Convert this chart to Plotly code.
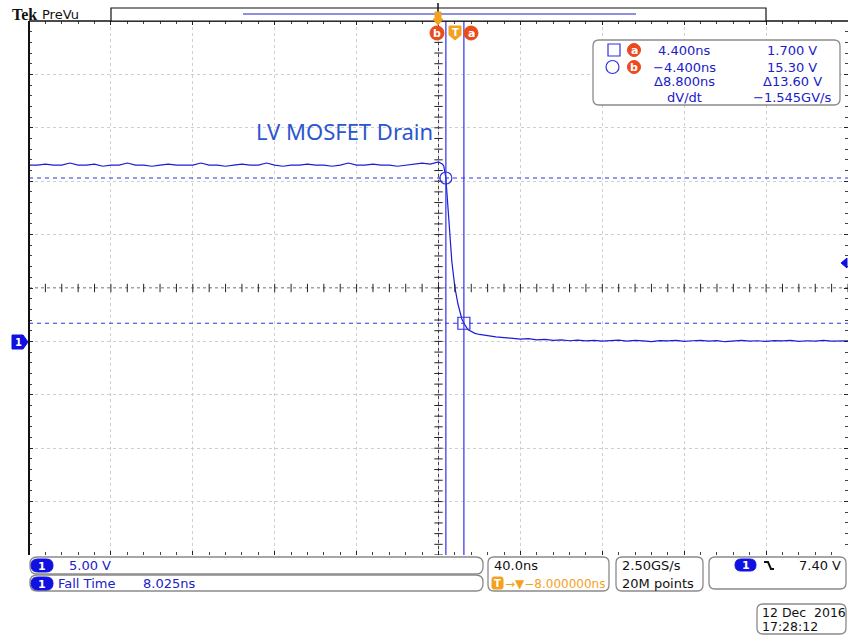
import plotly.graph_objects as go
import numpy as np

t_pre = [-208, -204, -200, -196, -192, -188, -184, -180, -176, -172, -168, -164, -160, -156,
         -152, -148, -144, -140, -136, -132, -128, -124, -120, -116, -112, -108, -104, -100,
         -96, -92, -88, -84, -80, -76, -72, -68, -64, -60, -56, -52, -48, -44, -40, -36,
         -32, -28, -24, -20, -16, -12, -8, -6]
v_pre = [16.5, 16.5, 16.6, 16.5, 16.5, 16.7, 16.5, 16.5, 16.6, 16.4, 16.5, 16.5, 16.7, 16.5,
         16.5, 16.4, 16.5, 16.6, 16.5, 16.5, 16.5, 16.7, 16.5, 16.5, 16.4, 16.5, 16.6, 16.5,
         16.5, 16.7, 16.5, 16.4, 16.5, 16.5, 16.6, 16.5, 16.5, 16.4, 16.5, 16.7, 16.5, 16.5,
         16.6, 16.5, 16.5, 16.4, 16.5, 16.6, 16.7, 16.6, 16.8, 16.6]
t_edge = [-5.4, -4.4, -3.4, -2.4, -1.5, 0.0, 1.5, 3.4, 4.4, 6.3, 8.0, 9.8, 12.0, 14.0, 17.0]
v_edge = [16.4, 15.3, 12.8, 10.0, 7.5, 5.06, 3.5, 2.1, 1.7, 1.12, 0.9, 0.75, 0.65, 0.58, 0.47]
t_post = [20, 24, 28, 32, 36, 40, 44, 48, 52, 56, 60, 64, 68, 72, 76, 80, 84, 88, 92, 96,
          100, 104, 108, 112, 116, 120, 124, 128, 132, 136, 140, 144, 148, 152, 156, 160,
          164, 168, 172, 176, 180, 184, 188, 192]
v_post = [0.42, 0.36, 0.30, 0.22, 0.26, 0.15, 0.19, 0.10, 0.14, 0.06, 0.12, 0.05, 0.10, 0.02,
          0.08, 0.12, 0.03, 0.09, 0.05, -0.02, 0.08, 0.04, 0.10, 0.00, 0.06, 0.09, 0.02, 0.07,
          -0.03, 0.05, 0.10, 0.03, 0.06, 0.00, 0.08, 0.04, 0.09, 0.01, 0.06, 0.03, 0.09, 0.02,
          0.05, 0.04]

cursor_a_t, cursor_a_v = 4.4, 1.7
cursor_b_t, cursor_b_v = -4.4, 15.3
trigger_t = 0.0
trigger_level = 7.40
center_t = -8.0          # horizontal delay
volts_per_div = 5.0
ns_per_div = 40.0
center_v = 5.0

meas_rows = [("4.400ns", "1.700 V"), ("\u22124.400ns", "15.30 V"),
             ("\u03948.800ns", "\u039413.60 V"), ("dV/dt", "\u22121.545GV/s")]

# ---------------- geometry helpers ----------------
W, H = 849, 638
L, R, T, B = 29, 848, 21, 555
def px(x): return (x - L) / (R - L)
def py(y): return (B - y) / (B - T)

BLUE_TXT = '#2020c8'
TRACE = '#1c1cd8'
CUR = '#3030e6'
ORANGE = '#f2a21e'
RED = '#ea4a1c'
GREY = '#8a8a8a'

shapes = []
annotations = []

def rrect(x0, y0, x1, y1, r, line=GREY, fill='rgba(0,0,0,0)', width=1.3):
    p = (f"M {px(x0+r)},{py(y0)} L {px(x1-r)},{py(y0)} Q {px(x1)},{py(y0)} {px(x1)},{py(y0+r)} "
         f"L {px(x1)},{py(y1-r)} Q {px(x1)},{py(y1)} {px(x1-r)},{py(y1)} "
         f"L {px(x0+r)},{py(y1)} Q {px(x0)},{py(y1)} {px(x0)},{py(y1-r)} "
         f"L {px(x0)},{py(y0+r)} Q {px(x0)},{py(y0)} {px(x0+r)},{py(y0)} Z")
    shapes.append(dict(type='path', xref='paper', yref='paper', path=p,
                       line=dict(color=line, width=width), fillcolor=fill, layer='above'))

def poly(pts, fill, line=None, width=1):
    p = "M " + " L ".join(f"{px(x)},{py(y)}" for x, y in pts) + " Z"
    shapes.append(dict(type='path', xref='paper', yref='paper', path=p,
                       line=dict(color=line or fill, width=width), fillcolor=fill, layer='above'))

def text(x, y, s, color=BLUE_TXT, size=13, anchor='left', family='DejaVu Sans'):
    annotations.append(dict(x=px(x), y=py(y), xref='paper', yref='paper', text=s,
                            showarrow=False, xanchor=anchor, yanchor='middle',
                            font=dict(color=color, size=size, family=family),
                            borderpad=0))

def circ_label(x, y, s, color=RED, r=7):
    shapes.append(dict(type='circle', xref='paper', yref='paper',
                       x0=px(x - r), x1=px(x + r), y0=py(y + r), y1=py(y - r),
                       fillcolor=color, line=dict(color=color, width=1), layer='above'))
    text(x, y + 0.5, f"<b>{s}</b>", color='white', size=11, anchor='center')

def pill(x0, y0, x1, y1, s):
    rrect(x0, y0, x1, y1, (y1 - y0) / 2, line='#1010e0', fill='#1010e0', width=1)
    text((x0 + x1) / 2, (y0 + y1) / 2 + 0.5, f"<b>{s}</b>", color='white', size=11, anchor='center')

# ---------------- figure ----------------
fig = go.Figure()

# trace
t_all = t_pre + t_edge + t_post
v_all = v_pre + v_edge + v_post
fig.add_trace(go.Scatter(x=t_all, y=v_all, mode='lines', line=dict(color=TRACE, width=1.2),
                         hoverinfo='skip', showlegend=False))

x_lo, x_hi = center_t - 5 * ns_per_div, center_t + 5 * ns_per_div
y_lo, y_hi = center_v - 5 * volts_per_div, center_v + 5 * volts_per_div

# centre cross-hair ticks
v_ticks = np.arange(y_lo, y_hi + 0.01, volts_per_div / 5)
t_ticks = np.arange(x_lo, x_hi + 0.01, ns_per_div / 5)
fig.add_trace(go.Scatter(x=[center_t] * len(v_ticks), y=v_ticks, mode='markers',
                         marker=dict(symbol='line-ew', size=6, line=dict(color='#222', width=1)),
                         hoverinfo='skip', showlegend=False))
fig.add_trace(go.Scatter(x=t_ticks, y=[center_v] * len(t_ticks), mode='markers',
                         marker=dict(symbol='line-ns', size=6, line=dict(color='#222', width=1)),
                         hoverinfo='skip', showlegend=False))

# centre dotted lines
shapes.append(dict(type='line', xref='x', yref='paper', x0=center_t, x1=center_t, y0=0, y1=1,
                   line=dict(color='#444', width=1, dash='dot'), layer='below'))
shapes.append(dict(type='line', xref='paper', yref='y', x0=0, x1=1, y0=center_v, y1=center_v,
                   line=dict(color='#444', width=1, dash='dot'), layer='below'))

# cursors
for tc in (cursor_a_t, cursor_b_t):
    shapes.append(dict(type='line', xref='x', yref='paper', x0=tc, x1=tc, y0=0, y1=1,
                       line=dict(color=CUR, width=1.2)))
for vc in (cursor_a_v, cursor_b_v):
    shapes.append(dict(type='line', xref='paper', yref='y', x0=0, x1=1, y0=vc, y1=vc,
                       line=dict(color=CUR, width=1, dash='4px,4px')))
shapes.append(dict(type='circle', xref='x', yref='y', xsizemode='pixel', ysizemode='pixel',
                   xanchor=cursor_b_t, yanchor=cursor_b_v, x0=-6, x1=6, y0=-6, y1=6,
                   line=dict(color=CUR, width=1.2)))
shapes.append(dict(type='rect', xref='x', yref='y', xsizemode='pixel', ysizemode='pixel',
                   xanchor=cursor_a_t, yanchor=cursor_a_v, x0=-6, x1=6, y0=-6, y1=6,
                   line=dict(color=CUR, width=1.2)))

# frame lines
shapes.append(dict(type='line', xref='paper', yref='paper', x0=0, x1=0, y0=0, y1=1,
                   line=dict(color='#111', width=2)))
shapes.append(dict(type='line', xref='paper', yref='paper', x0=0, x1=1, y0=1, y1=1,
                   line=dict(color='#111', width=1.5)))

# header
text(11, 14, "<b>Tek</b>", color='#111', size=16, family='Liberation Serif')
text(41, 14, "PreVu", color='#111', size=13)
shapes.append(dict(type='rect', xref='paper', yref='paper', x0=px(111), x1=px(766),
                   y0=py(21), y1=py(8), line=dict(color='#111', width=1.2), fillcolor='white'))
shapes.append(dict(type='line', xref='paper', yref='paper', x0=px(243), x1=px(636),
                   y0=py(14), y1=py(14), line=dict(color='#6a6ad8', width=1.5)))
shapes.append(dict(type='line', xref='paper', yref='paper', x0=px(438), x1=px(438),
                   y0=py(3), y1=py(12), line=dict(color='#111', width=1.5)))
poly([(435, 12), (441, 12), (441, 19), (443, 19), (438, 25), (433, 19), (435, 19)], ORANGE)

# cursor labels at top
circ_label(437, 33, "b")
circ_label(471, 33, "a")
poly([(449, 26), (461, 26), (461, 35), (455, 40), (449, 35)], ORANGE)
text(455, 32, "<b>T</b>", color='white', size=10, anchor='center')

# ground marker (left) and trigger level marker (right)
poly([(12, 335), (23, 335), (28, 342), (23, 349), (12, 349)], '#1010e0')
text(18, 342.5, "<b>1</b>", color='white', size=10, anchor='center')
poly([(841, 263), (847, 258), (847, 268)], '#1010e0')

# title text
text(255, 131, "LV MOSFET Drain", color='#2d55d0', size=22, family='Noto Sans')

# measurement box
rrect(593, 40, 840, 105, 6, line=GREY, fill='white')
row_y = [50, 67, 82, 97]
for (lt, rt), yy in zip(meas_rows, row_y):
    text(684, yy, lt, anchor='center')
    text(792, yy, rt, anchor='center')
shapes.append(dict(type='rect', xref='paper', yref='paper', x0=px(608), x1=px(620),
                   y0=py(56), y1=py(44), line=dict(color=CUR, width=1.2)))
circ_label(634, 50, "a", r=6.5)
shapes.append(dict(type='circle', xref='paper', yref='paper', x0=px(606), x1=px(619),
                   y0=py(73.5), y1=py(60.5), line=dict(color=CUR, width=1.2)))
circ_label(634, 67, "b", r=6.5)

# bottom info boxes
rrect(30, 557, 483, 574, 7)
pill(31, 559, 53, 572, "1")
text(68, 565.5, "5.00 V")
rrect(30, 575, 483, 591, 7)
pill(31, 577, 53, 590, "1")
text(57, 583.5, "Fall Time")
text(142, 583.5, "8.025ns")

rrect(488, 557, 609, 591, 6)
text(493, 565.5, "40.0ns", color='#111')
rrect(492, 577, 503, 589, 2, line=ORANGE, fill=ORANGE, width=1)
text(497.5, 583.5, "<b>T</b>", color='white', size=10, anchor='center')
text(504, 583.5, "\u2192\u25bc\u22128.000000ns", color=ORANGE, size=12)

rrect(616, 557, 703, 591, 6)
text(621, 565.5, "2.50GS/s", color='#111')
text(621, 583.5, "20M points", color='#111')

rrect(709, 557, 846, 589, 6)
pill(735, 559, 756, 571, "1")
shapes.append(dict(type='path', xref='paper', yref='paper',
                   path=f"M {px(764)},{py(562)} L {px(768)},{py(562)} L {px(771)},{py(569)} L {px(774)},{py(569)}",
                   line=dict(color='#111', width=2)))
text(842, 565.5, "7.40 V", color='#111', anchor='right')

rrect(757, 604, 846, 634, 6)
text(761, 612.5, "12 Dec  2016", color='#111', size=12.5)
text(761, 627, "17:28:12", color='#111', size=12.5)

fig.update_layout(
    width=W, height=H,
    margin=dict(l=L, r=W - R, t=T, b=H - B, pad=0),
    paper_bgcolor='white', plot_bgcolor='white',
    showlegend=False,
    xaxis=dict(range=[x_lo, x_hi], dtick=ns_per_div, tick0=center_t, showgrid=True,
               gridcolor='#cfcfcf', griddash='dot', gridwidth=1, zeroline=False,
               showticklabels=False, ticks='inside', ticklen=4, tickcolor='#222',
               mirror='ticks', showline=False, fixedrange=True,
               minor=dict(dtick=ns_per_div / 5, tick0=center_t, ticks='inside', ticklen=3,
                          tickcolor='#444', showgrid=False)),
    yaxis=dict(range=[y_lo, y_hi], dtick=volts_per_div, tick0=center_v, showgrid=True,
               gridcolor='#cfcfcf', griddash='dot', gridwidth=1, zeroline=False,
               showticklabels=False, ticks='inside', ticklen=4, tickcolor='#222',
               mirror='ticks', showline=False, fixedrange=True,
               minor=dict(dtick=volts_per_div / 5, tick0=center_v, ticks='inside', ticklen=3,
                          tickcolor='#444', showgrid=False)),
    shapes=shapes, annotations=annotations,
)

fig.write_html("out.html", config={'displayModeBar': False},
               post_script="document.body.style.margin='0';document.body.style.overflow='hidden';")
